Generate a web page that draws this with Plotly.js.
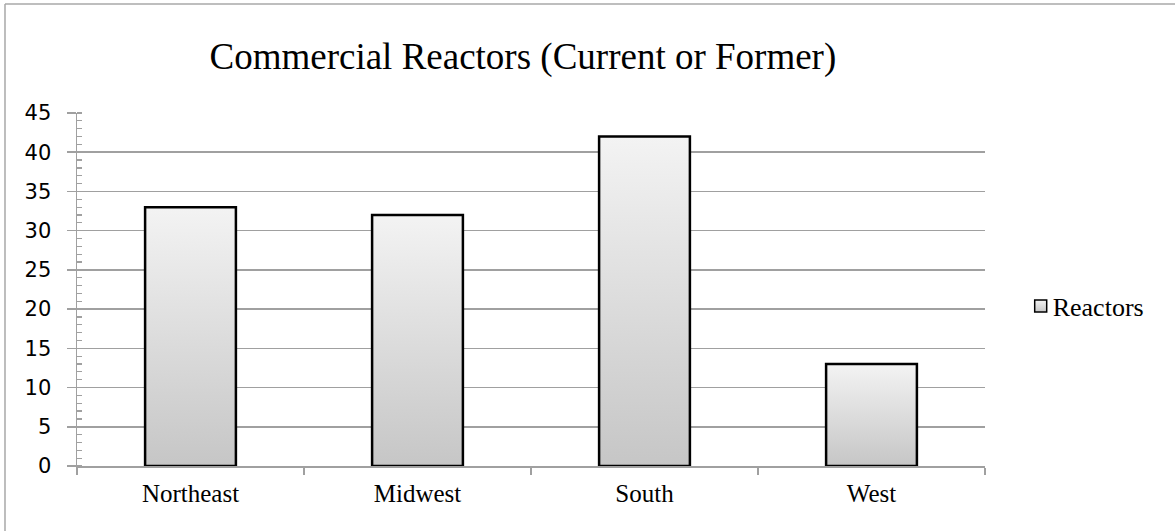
<!DOCTYPE html>
<html>
<head>
<meta charset="utf-8">
<script src="https://cdn.plot.ly/plotly-3.0.1.min.js"></script>
<style>html,body{margin:0;padding:0;background:#fff;}#chart{width:1175px;height:531px;}</style>
</head>
<body>
<div id="chart"></div>
<script>
const regions = ["Northeast", "Midwest", "South", "West"];
const reactors = [33, 32, 42, 13];
const seriesName = "Reactors";
const yTicks = [0, 5, 10, 15, 20, 25, 30, 35, 40, 45];

const gridColor = "#a0a0a0";
const serif = "Liberation Serif";

const trace = {
  type: "bar",
  x: regions,
  y: reactors,
  name: seriesName,
  marker: { color: "#dcdcdc", line: { color: "#000", width: 2.5 } },
  showlegend: true,
  hoverinfo: "x+y"
};

const layout = {
  width: 1175,
  height: 531,
  paper_bgcolor: "#fff",
  plot_bgcolor: "#fff",
  margin: { l: 77, r: 190, t: 113, b: 65, pad: 0 },
  bargap: 0.6,
  font: { family: serif, color: "#000" },
  title: {
    text: "Commercial Reactors (Current or Former)",
    font: { family: serif, size: 37, color: "#000" },
    xref: "container", x: 0.445, xanchor: "center",
    yref: "container", y: 0.895, yanchor: "middle"
  },
  xaxis: {
    type: "category",
    showline: true, linecolor: gridColor, linewidth: 1.5,
    ticks: "outside", tickson: "boundaries", ticklen: 7, tickwidth: 1.5, tickcolor: gridColor,
    showgrid: false,
    tickfont: { family: serif, size: 25, color: "#000" },
    ticklabelstandoff: 4
  },
  yaxis: {
    range: [0, 45],
    tickvals: yTicks,
    showline: true, linecolor: gridColor, linewidth: 1.5,
    ticks: "outside", ticklen: 9, tickwidth: 1.5, tickcolor: gridColor,
    showgrid: true, gridcolor: gridColor, gridwidth: 1.5,
    zeroline: false,
    minor: { dtick: 1, ticks: "inside", ticklen: 5, tickwidth: 1.2, tickcolor: gridColor, showgrid: false },
    tickfont: { family: "DejaVu Sans", size: 21, color: "#000" },
    ticklabelstandoff: 11
  },
  legend: {
    x: 1.0305, xanchor: "left", xref: "paper",
    y: 0.453, yanchor: "middle", yref: "paper",
    font: { family: serif, size: 26, color: "#000" },
    bgcolor: "rgba(0,0,0,0)", itemwidth: 30
  },
  shapes: [
    { type: "line", xref: "paper", yref: "paper", x0: -0.0793, x1: 1.5, y0: 1.3088, y1: 1.3088, line: { color: "#a8a8a8", width: 1.5 } },
    { type: "line", xref: "paper", yref: "paper", x0: -0.0793, x1: -0.0793, y0: 1.3088, y1: -0.5, line: { color: "#a8a8a8", width: 1.5 } }
  ]
};

Plotly.newPlot("chart", [trace], layout, { displayModeBar: false, staticPlot: true }).then(function (gd) {
  const svg = gd.querySelector("svg.main-svg");
  const ns = "http://www.w3.org/2000/svg";
  let defs = svg.querySelector("defs");
  if (!defs) { defs = document.createElementNS(ns, "defs"); svg.insertBefore(defs, svg.firstChild); }
  const grad = document.createElementNS(ns, "linearGradient");
  grad.setAttribute("id", "barGrad");
  grad.setAttribute("x1", "0"); grad.setAttribute("y1", "0");
  grad.setAttribute("x2", "0"); grad.setAttribute("y2", "1");
  [["0", "#f3f3f3"], ["1", "#c6c6c6"]].forEach(function (s) {
    const st = document.createElementNS(ns, "stop");
    st.setAttribute("offset", s[0]); st.setAttribute("stop-color", s[1]);
    grad.appendChild(st);
  });
  defs.appendChild(grad);
  gd.querySelectorAll(".trace.bars .point path, .legendpoints path").forEach(function (p) {
    p.style.fill = "url(#barGrad)";
  });
  gd.querySelectorAll(".legendpoints path").forEach(function (p) {
    p.style.strokeWidth = "1.5px";
  });
  gd.querySelectorAll(".legendpoints").forEach(function (g) {
    g.setAttribute("transform", "translate(8,0)");
  });
  gd.querySelectorAll(".legendtext").forEach(function (t) {
    t.style.fontFamily = "'Liberation Serif', 'Times New Roman', serif";
  });
});
</script>
</body>
</html>
